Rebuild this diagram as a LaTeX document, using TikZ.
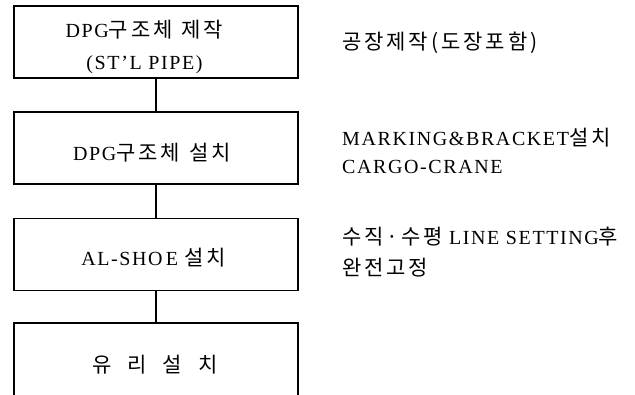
\documentclass[tikz,border=0pt]{standalone}
\usepackage{fontspec}
\setmainfont{Liberation Serif}[LetterSpace=8]
\newfontfamily\krfont{Noto Sans CJK KR}[LetterSpace=14, Scale=1.05]
\newcommand\K[1]{{\krfont #1}}
\begin{document}
\begin{tikzpicture}[x=1pt,y=-1pt,
  box/.style={draw, line width=1.4pt, minimum width=284pt, minimum height=72pt, inner sep=0pt},
  boxtext/.style={align=center, inner sep=0pt, font=\fontsize{20}{32}\selectfont},
  note/.style={anchor=west, align=left, inner sep=0pt, font=\fontsize{20}{28}\selectfont},
  link/.style={line width=1.4pt}]
\useasboundingbox (0,0) rectangle (635,395);
\clip (0,0) rectangle (635,395);
\fill[white] (0,0) rectangle (635,395);
\node[box] (b1) at (156,42) {};
\node[box] (b2) at (156,148) {};
\node[box] (b3) at (156,254.5) {};
\node[box, minimum height=100pt] (b4) at (156,373) {};
\node[boxtext] (t1) at (144.5,47) {DPG\K{구조체}\hspace{9pt}\K{제작}\\(ST'L PIPE)};
\node[boxtext] (t2) at (152,153) {DPG\K{구조체}\hspace{9pt}\K{설치}};
\node[boxtext] (t3) at (153.5,258) {AL-SHO\,E\hspace{6pt}\K{설치}};
\node[boxtext] (t4) at (155,365) {\K{유}\hspace{16pt}\K{리}\hspace{16pt}\K{설}\hspace{16pt}\K{치}};
\draw[link] (b1) -- (b2);
\draw[link] (b2) -- (b3);
\draw[link] (b3) -- (b4);
\node[note] (n1) at (342,43) {\K{공장제작(도장포함)}};
\node[note] (n2) at (342,151) {MARKING\&BRACKET\K{설치}\\CARGO-CRANE};
\node[note, font=\fontsize{20}{31}\selectfont] (n3) at (342,252.5) {\K{수직·수평}\hspace{6pt}LINE SETTING\K{후}\\\K{완전고정}};
\end{tikzpicture}
\end{document}
